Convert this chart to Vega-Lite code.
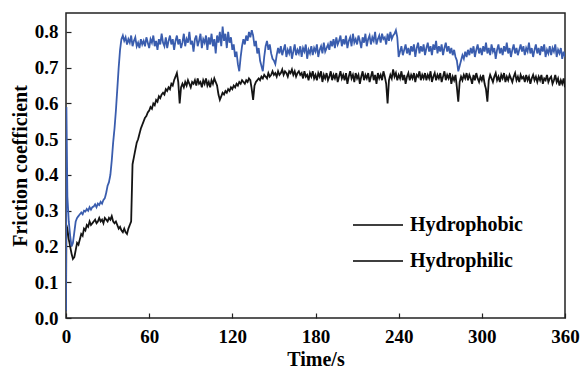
{
  "$schema": "https://vega.github.io/schema/vega-lite/v6.json",
  "width": 499,
  "height": 305,
  "autosize": "none",
  "padding": {"left": 66, "top": 13, "right": 16, "bottom": 53},
  "background": "white",
  "config": {
    "view": {"stroke": "#222222", "strokeWidth": 1.5},
    "font": "Liberation Serif",
    "axis": {
      "grid": false,
      "domain": false,
      "tickColor": "#222222",
      "tickWidth": 1.2,
      "tickSize": -5,
      "labelFont": "Liberation Serif",
      "labelFontWeight": "bold",
      "labelFontSize": 19,
      "labelColor": "black",
      "titleFont": "Liberation Serif",
      "titleFontWeight": "bold",
      "titleFontSize": 20,
      "titleColor": "black"
    },
    "legend": {
      "labelFont": "Liberation Serif",
      "labelFontWeight": "bold",
      "labelFontSize": 20,
      "labelColor": "black",
      "symbolBaseStrokeColor": "black",
      "symbolStrokeColor": "black"
    }
  },
  "data": {
    "values": [
      {"t":0,"a":0.02,"b":0.02},{"t":0.3,"a":0.59,"b":0.26},
      {"t":1,"a":0.34,"b":0.25},{"t":2,"a":0.27,"b":0.22},{"t":3,"a":0.23,"b":0.20},{"t":4,"a":0.20,"b":0.18},{"t":5,"a":0.21,"b":0.165},{"t":6,"a":0.24,"b":0.17},{"t":7,"a":0.27,"b":0.19},{"t":8,"a":0.28,"b":0.21},{"t":9,"a":0.285,"b":0.205},
      {"t":10,"a":0.29,"b":0.22},{"t":11,"a":0.295,"b":0.235},{"t":12,"a":0.29,"b":0.23},{"t":13,"a":0.30,"b":0.25},{"t":14,"a":0.298,"b":0.245},{"t":15,"a":0.305,"b":0.26},{"t":16,"a":0.30,"b":0.255},{"t":17,"a":0.31,"b":0.27},{"t":18,"a":0.303,"b":0.26},{"t":19,"a":0.31,"b":0.265},
      {"t":20,"a":0.312,"b":0.27},{"t":21,"a":0.318,"b":0.275},{"t":22,"a":0.31,"b":0.265},{"t":23,"a":0.32,"b":0.27},{"t":24,"a":0.316,"b":0.28},{"t":25,"a":0.325,"b":0.27},{"t":26,"a":0.32,"b":0.275},{"t":27,"a":0.33,"b":0.265},{"t":28,"a":0.335,"b":0.28},{"t":29,"a":0.35,"b":0.275},
      {"t":30,"a":0.37,"b":0.27},{"t":31,"a":0.38,"b":0.28},{"t":32,"a":0.40,"b":0.275},{"t":33,"a":0.44,"b":0.285},{"t":34,"a":0.49,"b":0.27},{"t":35,"a":0.53,"b":0.265},{"t":36,"a":0.58,"b":0.27},{"t":37,"a":0.64,"b":0.26},{"t":38,"a":0.70,"b":0.25},{"t":39,"a":0.75,"b":0.255},
      {"t":40,"a":0.78,"b":0.245},{"t":41,"a":0.79,"b":0.24},{"t":42,"a":0.775,"b":0.25},{"t":43,"a":0.785,"b":0.24},{"t":44,"a":0.765,"b":0.235},{"t":45,"a":0.78,"b":0.25},{"t":46,"a":0.77,"b":0.26},{"t":47,"a":0.79,"b":0.27},{"t":48,"a":0.76,"b":0.43},{"t":49,"a":0.775,"b":0.45},
      {"t":50,"a":0.785,"b":0.47},{"t":51,"a":0.76,"b":0.49},{"t":52,"a":0.77,"b":0.50},{"t":53,"a":0.755,"b":0.515},{"t":54,"a":0.78,"b":0.53},{"t":55,"a":0.765,"b":0.54},{"t":56,"a":0.775,"b":0.55},{"t":57,"a":0.76,"b":0.56},{"t":58,"a":0.785,"b":0.565},{"t":59,"a":0.77,"b":0.575},
      {"t":60,"a":0.755,"b":0.58},{"t":61,"a":0.78,"b":0.59},{"t":62,"a":0.77,"b":0.585},{"t":63,"a":0.79,"b":0.60},{"t":64,"a":0.76,"b":0.595},{"t":65,"a":0.775,"b":0.61},{"t":66,"a":0.75,"b":0.605},{"t":67,"a":0.78,"b":0.62},{"t":68,"a":0.765,"b":0.615},{"t":69,"a":0.795,"b":0.625},
      {"t":70,"a":0.77,"b":0.63},{"t":71,"a":0.76,"b":0.625},{"t":72,"a":0.785,"b":0.64},{"t":73,"a":0.755,"b":0.635},{"t":74,"a":0.775,"b":0.645},{"t":75,"a":0.79,"b":0.64},{"t":76,"a":0.765,"b":0.655},{"t":77,"a":0.78,"b":0.65},{"t":78,"a":0.75,"b":0.665},{"t":79,"a":0.775,"b":0.675},
      {"t":80,"a":0.79,"b":0.685},{"t":81,"a":0.765,"b":0.66},{"t":82,"a":0.78,"b":0.60},{"t":83,"a":0.755,"b":0.645},{"t":84,"a":0.77,"b":0.655},{"t":85,"a":0.795,"b":0.645},{"t":86,"a":0.76,"b":0.66},{"t":87,"a":0.78,"b":0.65},{"t":88,"a":0.77,"b":0.665},{"t":89,"a":0.80,"b":0.655},
      {"t":90,"a":0.765,"b":0.645},{"t":91,"a":0.775,"b":0.66},{"t":92,"a":0.745,"b":0.655},{"t":93,"a":0.78,"b":0.665},{"t":94,"a":0.79,"b":0.65},{"t":95,"a":0.76,"b":0.67},{"t":96,"a":0.775,"b":0.655},{"t":97,"a":0.795,"b":0.66},{"t":98,"a":0.755,"b":0.645},{"t":99,"a":0.78,"b":0.665},
      {"t":100,"a":0.77,"b":0.655},{"t":101,"a":0.79,"b":0.67},{"t":102,"a":0.75,"b":0.65},{"t":103,"a":0.785,"b":0.66},{"t":104,"a":0.765,"b":0.645},{"t":105,"a":0.795,"b":0.665},{"t":106,"a":0.76,"b":0.655},{"t":107,"a":0.78,"b":0.67},{"t":108,"a":0.74,"b":0.66},{"t":109,"a":0.79,"b":0.65},
      {"t":110,"a":0.77,"b":0.625},{"t":111,"a":0.80,"b":0.61},{"t":112,"a":0.76,"b":0.62},{"t":113,"a":0.815,"b":0.63},{"t":114,"a":0.775,"b":0.625},{"t":115,"a":0.795,"b":0.635},{"t":116,"a":0.755,"b":0.63},{"t":117,"a":0.80,"b":0.64},{"t":118,"a":0.77,"b":0.635},{"t":119,"a":0.785,"b":0.645},
      {"t":120,"a":0.75,"b":0.64},{"t":121,"a":0.765,"b":0.65},{"t":122,"a":0.73,"b":0.645},{"t":123,"a":0.745,"b":0.655},{"t":124,"a":0.71,"b":0.65},{"t":125,"a":0.69,"b":0.66},{"t":126,"a":0.73,"b":0.655},{"t":127,"a":0.76,"b":0.665},{"t":128,"a":0.78,"b":0.66},{"t":129,"a":0.765,"b":0.655},
      {"t":130,"a":0.79,"b":0.665},{"t":131,"a":0.775,"b":0.66},{"t":132,"a":0.80,"b":0.67},{"t":133,"a":0.785,"b":0.665},{"t":134,"a":0.805,"b":0.64},{"t":135,"a":0.79,"b":0.61},{"t":136,"a":0.76,"b":0.65},{"t":137,"a":0.775,"b":0.66},{"t":138,"a":0.74,"b":0.665},{"t":139,"a":0.755,"b":0.67},
      {"t":140,"a":0.72,"b":0.665},{"t":141,"a":0.705,"b":0.675},{"t":142,"a":0.69,"b":0.67},{"t":143,"a":0.73,"b":0.68},{"t":144,"a":0.76,"b":0.675},{"t":145,"a":0.775,"b":0.67},{"t":146,"a":0.75,"b":0.685},{"t":147,"a":0.765,"b":0.675},{"t":148,"a":0.74,"b":0.68},{"t":149,"a":0.725,"b":0.69},
      {"t":150,"a":0.72,"b":0.68},{"t":151,"a":0.71,"b":0.685},{"t":152,"a":0.735,"b":0.675},{"t":153,"a":0.755,"b":0.69},{"t":154,"a":0.74,"b":0.68},{"t":155,"a":0.76,"b":0.685},{"t":156,"a":0.735,"b":0.695},{"t":157,"a":0.75,"b":0.68},{"t":158,"a":0.765,"b":0.69},{"t":159,"a":0.73,"b":0.685},
      {"t":160,"a":0.75,"b":0.675},{"t":161,"a":0.74,"b":0.69},{"t":162,"a":0.76,"b":0.685},{"t":163,"a":0.725,"b":0.695},{"t":164,"a":0.745,"b":0.68},{"t":165,"a":0.765,"b":0.69},{"t":166,"a":0.735,"b":0.675},{"t":167,"a":0.75,"b":0.685},{"t":168,"a":0.74,"b":0.69},{"t":169,"a":0.76,"b":0.68},
      {"t":170,"a":0.73,"b":0.685},{"t":171,"a":0.755,"b":0.67},{"t":172,"a":0.745,"b":0.69},{"t":173,"a":0.765,"b":0.675},{"t":174,"a":0.725,"b":0.68},{"t":175,"a":0.75,"b":0.665},{"t":176,"a":0.74,"b":0.685},{"t":177,"a":0.76,"b":0.675},{"t":178,"a":0.735,"b":0.69},{"t":179,"a":0.755,"b":0.67},
      {"t":180,"a":0.745,"b":0.68},{"t":181,"a":0.765,"b":0.665},{"t":182,"a":0.73,"b":0.685},{"t":183,"a":0.75,"b":0.675},{"t":184,"a":0.76,"b":0.69},{"t":185,"a":0.74,"b":0.66},{"t":186,"a":0.77,"b":0.68},{"t":187,"a":0.745,"b":0.67},{"t":188,"a":0.755,"b":0.685},{"t":189,"a":0.765,"b":0.665},
      {"t":190,"a":0.75,"b":0.675},{"t":191,"a":0.775,"b":0.69},{"t":192,"a":0.76,"b":0.665},{"t":193,"a":0.78,"b":0.68},{"t":194,"a":0.755,"b":0.67},{"t":195,"a":0.785,"b":0.685},{"t":196,"a":0.765,"b":0.66},{"t":197,"a":0.775,"b":0.675},{"t":198,"a":0.79,"b":0.69},{"t":199,"a":0.76,"b":0.67},
      {"t":200,"a":0.78,"b":0.68},{"t":201,"a":0.765,"b":0.665},{"t":202,"a":0.79,"b":0.685},{"t":203,"a":0.755,"b":0.655},{"t":204,"a":0.775,"b":0.675},{"t":205,"a":0.785,"b":0.69},{"t":206,"a":0.76,"b":0.67},{"t":207,"a":0.795,"b":0.68},{"t":208,"a":0.77,"b":0.66},{"t":209,"a":0.78,"b":0.685},
      {"t":210,"a":0.765,"b":0.67},{"t":211,"a":0.79,"b":0.68},{"t":212,"a":0.775,"b":0.655},{"t":213,"a":0.755,"b":0.675},{"t":214,"a":0.785,"b":0.69},{"t":215,"a":0.77,"b":0.665},{"t":216,"a":0.795,"b":0.68},{"t":217,"a":0.76,"b":0.67},{"t":218,"a":0.78,"b":0.685},{"t":219,"a":0.79,"b":0.66},
      {"t":220,"a":0.765,"b":0.675},{"t":221,"a":0.785,"b":0.69},{"t":222,"a":0.775,"b":0.665},{"t":223,"a":0.80,"b":0.68},{"t":224,"a":0.765,"b":0.655},{"t":225,"a":0.78,"b":0.685},{"t":226,"a":0.79,"b":0.67},{"t":227,"a":0.77,"b":0.68},{"t":228,"a":0.795,"b":0.665},{"t":229,"a":0.78,"b":0.69},
      {"t":230,"a":0.785,"b":0.675},{"t":231,"a":0.765,"b":0.655},{"t":232,"a":0.795,"b":0.60},{"t":233,"a":0.775,"b":0.665},{"t":234,"a":0.80,"b":0.68},{"t":235,"a":0.78,"b":0.67},{"t":236,"a":0.79,"b":0.695},{"t":237,"a":0.795,"b":0.675},{"t":238,"a":0.805,"b":0.685},{"t":239,"a":0.785,"b":0.665},
      {"t":240,"a":0.73,"b":0.68},{"t":241,"a":0.745,"b":0.67},{"t":242,"a":0.76,"b":0.69},{"t":243,"a":0.735,"b":0.665},{"t":244,"a":0.75,"b":0.68},{"t":245,"a":0.765,"b":0.655},{"t":246,"a":0.74,"b":0.675},{"t":247,"a":0.755,"b":0.685},{"t":248,"a":0.735,"b":0.665},{"t":249,"a":0.76,"b":0.68},
      {"t":250,"a":0.745,"b":0.67},{"t":251,"a":0.765,"b":0.685},{"t":252,"a":0.73,"b":0.66},{"t":253,"a":0.755,"b":0.68},{"t":254,"a":0.77,"b":0.675},{"t":255,"a":0.74,"b":0.69},{"t":256,"a":0.76,"b":0.665},{"t":257,"a":0.745,"b":0.68},{"t":258,"a":0.765,"b":0.67},{"t":259,"a":0.735,"b":0.685},
      {"t":260,"a":0.755,"b":0.665},{"t":261,"a":0.77,"b":0.68},{"t":262,"a":0.745,"b":0.67},{"t":263,"a":0.76,"b":0.69},{"t":264,"a":0.735,"b":0.66},{"t":265,"a":0.765,"b":0.675},{"t":266,"a":0.75,"b":0.685},{"t":267,"a":0.775,"b":0.665},{"t":268,"a":0.74,"b":0.68},{"t":269,"a":0.76,"b":0.67},
      {"t":270,"a":0.745,"b":0.685},{"t":271,"a":0.765,"b":0.66},{"t":272,"a":0.735,"b":0.675},{"t":273,"a":0.755,"b":0.69},{"t":274,"a":0.77,"b":0.665},{"t":275,"a":0.745,"b":0.68},{"t":276,"a":0.76,"b":0.67},{"t":277,"a":0.74,"b":0.685},{"t":278,"a":0.755,"b":0.655},{"t":279,"a":0.735,"b":0.675},
      {"t":280,"a":0.75,"b":0.665},{"t":281,"a":0.73,"b":0.68},{"t":282,"a":0.72,"b":0.645},{"t":283,"a":0.69,"b":0.605},{"t":284,"a":0.705,"b":0.66},{"t":285,"a":0.72,"b":0.675},{"t":286,"a":0.735,"b":0.665},{"t":287,"a":0.725,"b":0.68},{"t":288,"a":0.745,"b":0.67},{"t":289,"a":0.73,"b":0.685},
      {"t":290,"a":0.75,"b":0.665},{"t":291,"a":0.735,"b":0.68},{"t":292,"a":0.755,"b":0.67},{"t":293,"a":0.74,"b":0.655},{"t":294,"a":0.76,"b":0.68},{"t":295,"a":0.73,"b":0.665},{"t":296,"a":0.75,"b":0.685},{"t":297,"a":0.765,"b":0.67},{"t":298,"a":0.74,"b":0.66},{"t":299,"a":0.755,"b":0.675},
      {"t":300,"a":0.735,"b":0.665},{"t":301,"a":0.76,"b":0.68},{"t":302,"a":0.745,"b":0.655},{"t":303,"a":0.77,"b":0.64},{"t":304,"a":0.74,"b":0.605},{"t":305,"a":0.755,"b":0.665},{"t":306,"a":0.735,"b":0.68},{"t":307,"a":0.765,"b":0.67},{"t":308,"a":0.745,"b":0.66},{"t":309,"a":0.755,"b":0.675},
      {"t":310,"a":0.725,"b":0.685},{"t":311,"a":0.75,"b":0.665},{"t":312,"a":0.765,"b":0.675},{"t":313,"a":0.74,"b":0.66},{"t":314,"a":0.755,"b":0.68},{"t":315,"a":0.735,"b":0.67},{"t":316,"a":0.76,"b":0.685},{"t":317,"a":0.745,"b":0.66},{"t":318,"a":0.77,"b":0.675},{"t":319,"a":0.74,"b":0.665},
      {"t":320,"a":0.755,"b":0.68},{"t":321,"a":0.73,"b":0.67},{"t":322,"a":0.75,"b":0.66},{"t":323,"a":0.765,"b":0.675},{"t":324,"a":0.74,"b":0.685},{"t":325,"a":0.755,"b":0.665},{"t":326,"a":0.735,"b":0.675},{"t":327,"a":0.75,"b":0.66},{"t":328,"a":0.765,"b":0.68},{"t":329,"a":0.745,"b":0.67},
      {"t":330,"a":0.76,"b":0.675},{"t":331,"a":0.735,"b":0.66},{"t":332,"a":0.755,"b":0.68},{"t":333,"a":0.745,"b":0.665},{"t":334,"a":0.77,"b":0.675},{"t":335,"a":0.74,"b":0.655},{"t":336,"a":0.755,"b":0.67},{"t":337,"a":0.73,"b":0.68},{"t":338,"a":0.75,"b":0.665},{"t":339,"a":0.765,"b":0.675},
      {"t":340,"a":0.74,"b":0.66},{"t":341,"a":0.755,"b":0.675},{"t":342,"a":0.735,"b":0.665},{"t":343,"a":0.76,"b":0.68},{"t":344,"a":0.745,"b":0.655},{"t":345,"a":0.765,"b":0.67},{"t":346,"a":0.73,"b":0.665},{"t":347,"a":0.75,"b":0.68},{"t":348,"a":0.74,"b":0.66},{"t":349,"a":0.76,"b":0.67},
      {"t":350,"a":0.735,"b":0.675},{"t":351,"a":0.755,"b":0.655},{"t":352,"a":0.745,"b":0.665},{"t":353,"a":0.765,"b":0.68},{"t":354,"a":0.73,"b":0.66},{"t":355,"a":0.75,"b":0.67},{"t":356,"a":0.74,"b":0.65},{"t":357,"a":0.755,"b":0.665},{"t":358,"a":0.725,"b":0.655},{"t":359,"a":0.745,"b":0.67},
      {"t":360,"a":0.73,"b":0.645}
    ]
  },
  "transform": [{"fold": ["b", "a"], "as": ["series", "f"]}],
  "mark": {"type": "line", "strokeWidth": 1.8, "clip": true},
  "encoding": {
    "x": {
      "field": "t",
      "type": "quantitative",
      "scale": {"domain": [0, 360], "nice": false, "zero": false},
      "axis": {"values": [0, 60, 120, 180, 240, 300, 360], "labelPadding": 14, "title": "Time/s", "titlePadding": 3, "labelFlush": false}
    },
    "y": {
      "field": "f",
      "type": "quantitative",
      "scale": {"domain": [0, 0.853], "nice": false},
      "axis": {"values": [0, 0.1, 0.2, 0.3, 0.4, 0.5, 0.6, 0.7, 0.8], "format": ".1f", "labelPadding": 13, "title": "Friction coefficient", "titlePadding": 4}
    },
    "color": {
      "field": "series",
      "type": "nominal",
      "scale": {"domain": ["b", "a"], "range": ["#141414", "#3a5dae"]},
      "legend": null
    },
    "strokeDash": {
      "field": "series",
      "type": "nominal",
      "scale": {"domain": ["a", "b"], "range": [[1, 0], [1, 0]]},
      "legend": {
        "orient": "none",
        "legendX": 286,
        "legendY": 186,
        "title": null,
        "symbolType": "stroke",
        "symbolSize": 2500,
        "symbolStrokeWidth": 1.5,
        "symbolStrokeColor": "black",
        "rowPadding": -16,
        "labelOffset": 6,
        "labelExpr": "datum.label == 'a' ? 'Hydrophobic' : 'Hydrophilic'"
      }
    },
    "order": {"field": "t", "type": "quantitative"}
  }
}
